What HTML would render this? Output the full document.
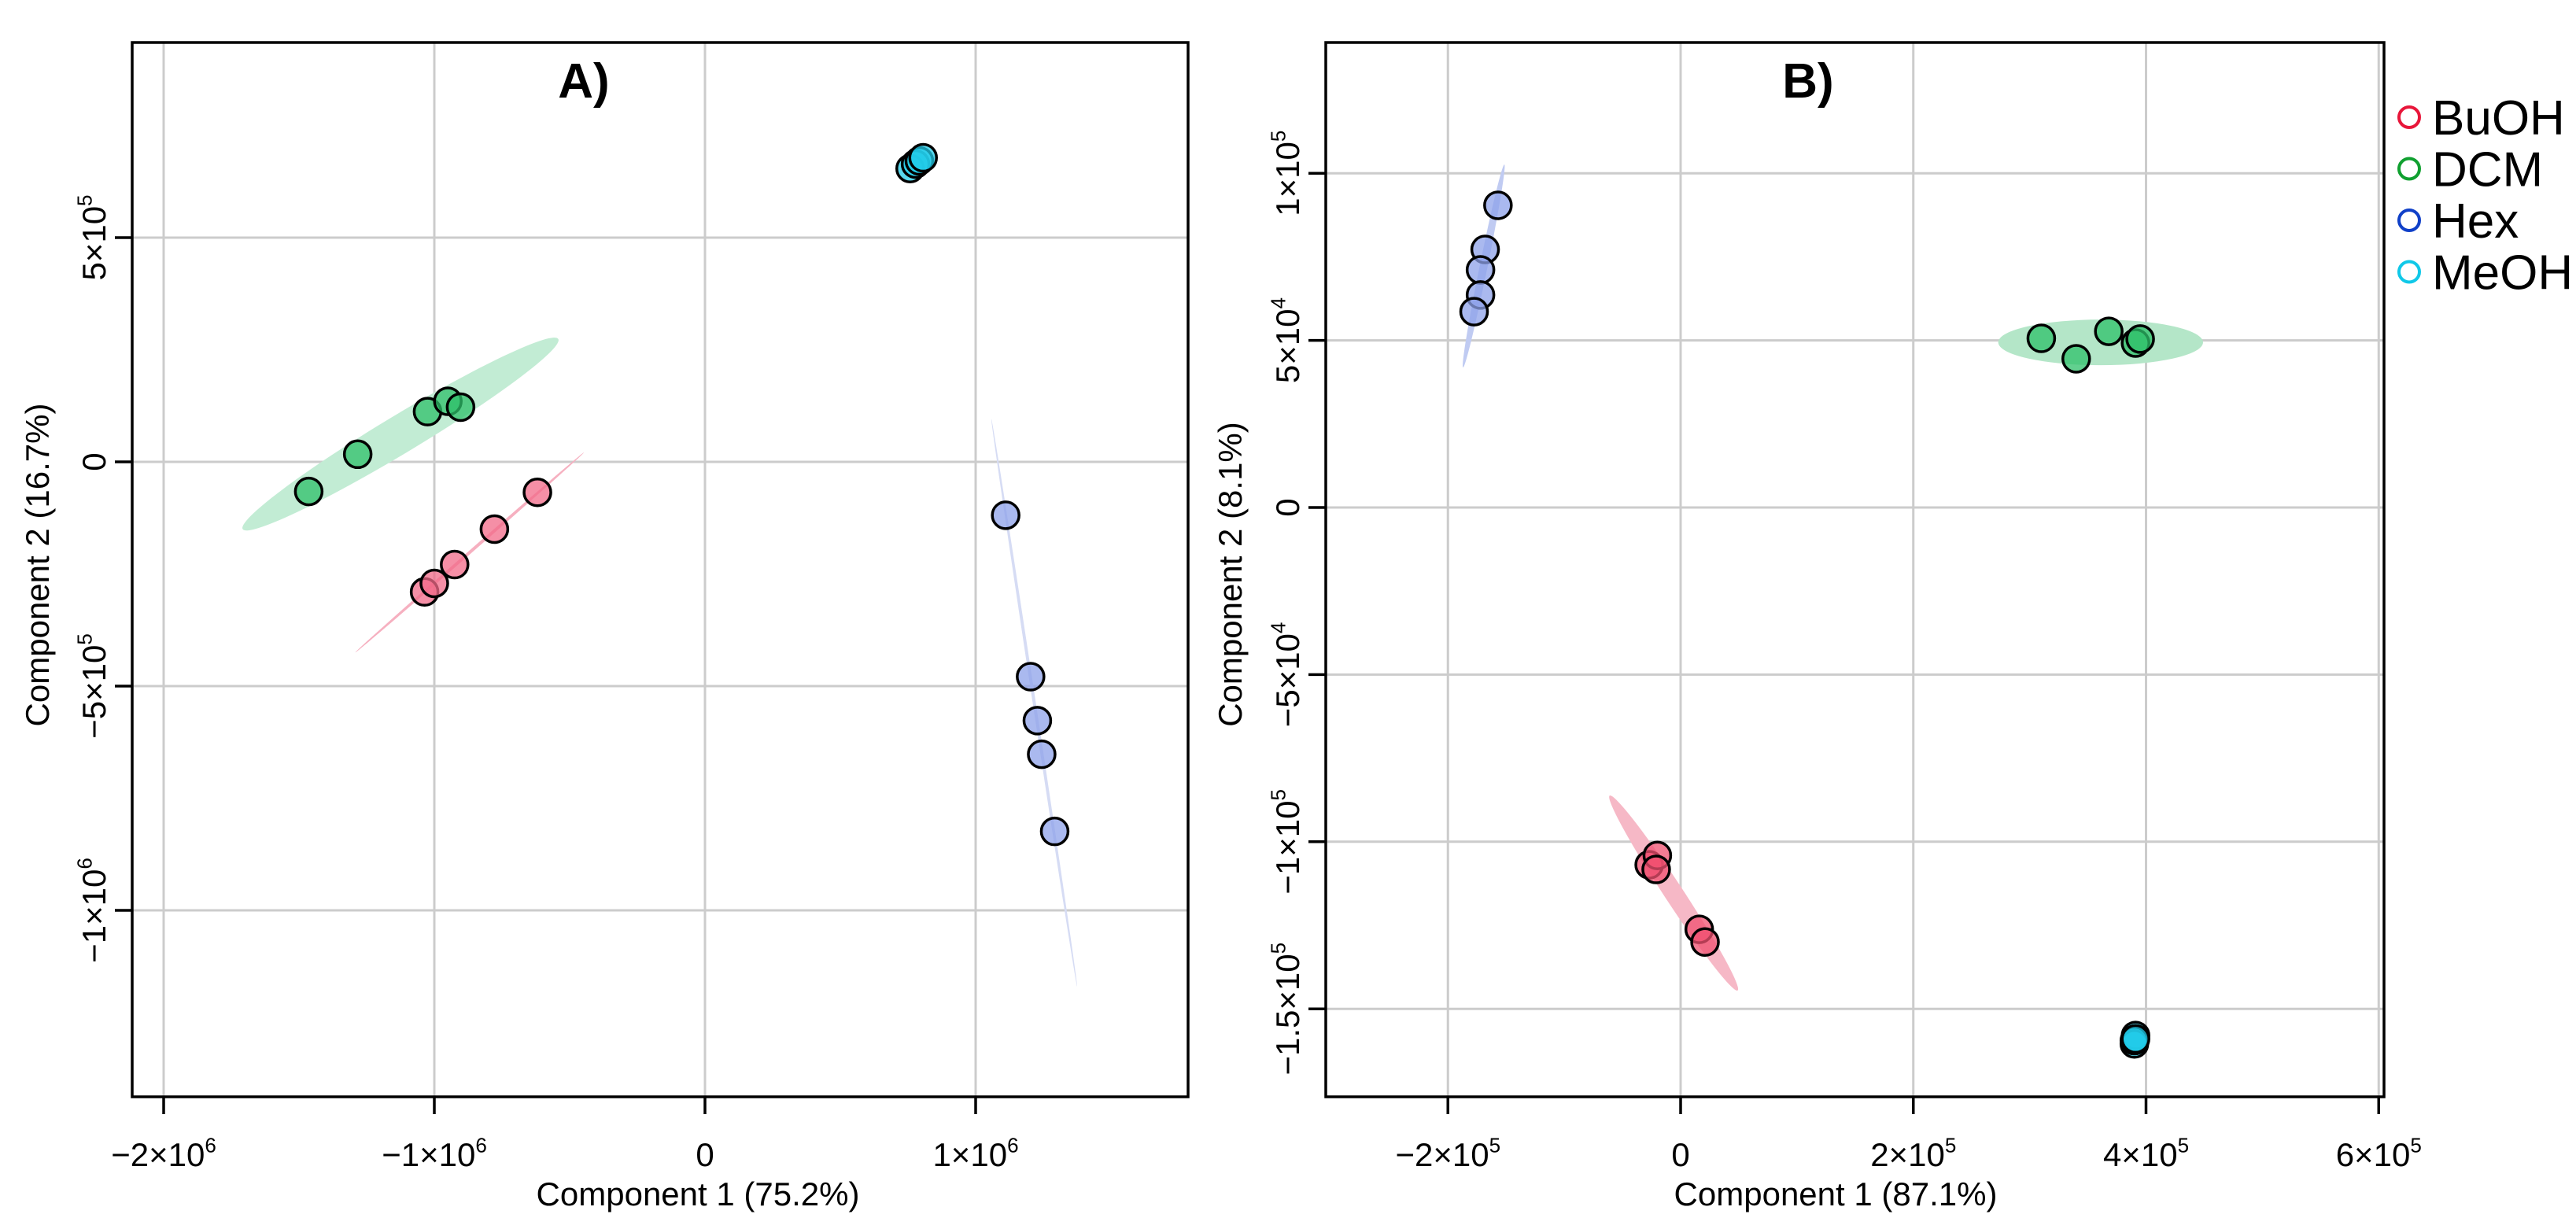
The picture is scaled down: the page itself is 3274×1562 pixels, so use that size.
<!DOCTYPE html>
<html><head><meta charset="utf-8"><style>
html,body{margin:0;padding:0;background:#fff;}
svg{display:block;font-family:"Liberation Sans",Arial,sans-serif;}
</style></head><body>
<svg id="chart" width="3274" height="1562" viewBox="0 0 3274 1562" xmlns="http://www.w3.org/2000/svg">
<g id="panelA"></g>
<g id="panelB"></g>
<g id="legend"></g>
</svg>
<script>
// ---------- Panel A data ----------
const aXTicks = [-2e6, -1e6, 0, 1e6];
const aXTickLabels = [["−2×10","6"],["−1×10","6"],["0",""],["1×10","6"]];
const aYTicks = [5e5, 0, -5e5, -1e6];
const aYTickLabels = [["5×10","5"],["0",""],["−5×10","5"],["−1×10","6"]];
const aBuOHx = [-1.036e6, -1.0e6, -0.925e6, -0.778e6, -0.619e6];
const aBuOHy = [-2.90e5, -2.71e5, -2.29e5, -1.50e5, -0.68e5];
const aDCMx = [-1.464e6, -1.283e6, -1.025e6, -0.95e6, -0.903e6];
const aDCMy = [-0.66e5, 0.17e5, 1.12e5, 1.35e5, 1.22e5];
const aHexx = [1.111e6, 1.203e6, 1.228e6, 1.244e6, 1.292e6];
const aHexy = [-1.19e5, -4.79e5, -5.77e5, -6.52e5, -8.24e5];
const aMeOHx = [0.758e6, 0.778e6, 0.792e6, 0.806e6];
const aMeOHy = [6.54e5, 6.64e5, 6.71e5, 6.78e5];
// ellipse major-axis endpoints [x1,y1,x2,y2]
const aEllDCM = [-1.708e6, -1.50e5, -0.542e6, 2.74e5];
const aEllBuOH = [-1.292e6, -4.25e5, -0.447e6, 0.21e5];
const aEllHex = [1.058e6, 0.96e5, 1.375e6, -11.7e5];

// ---------- Panel B data ----------
const bXTicks = [-2e5, 0, 2e5, 4e5, 6e5];
const bXTickLabels = [["−2×10","5"],["0",""],["2×10","5"],["4×10","5"],["6×10","5"]];
const bYTicks = [1e5, 5e4, 0, -5e4, -1e5, -1.5e5];
const bYTickLabels = [["1×10","5"],["5×10","4"],["0",""],["−5×10","4"],["−1×10","5"],["−1.5×10","5"]];
const bBuOHx = [-0.27e5, -0.20e5, -0.21e5, 0.16e5, 0.21e5];
const bBuOHy = [-10.69e4, -10.41e4, -10.83e4, -12.62e4, -13.0e4];
const bDCMx = [3.10e5, 3.40e5, 3.68e5, 3.91e5, 3.95e5];
const bDCMy = [5.06e4, 4.45e4, 5.27e4, 4.92e4, 5.04e4];
const bHexx = [-1.57e5, -1.68e5, -1.72e5, -1.72e5, -1.775e5];
const bHexy = [9.04e4, 7.72e4, 7.11e4, 6.36e4, 5.86e4];
const bMeOHx = [3.91e5, 3.90e5, 3.90e5, 3.91e5];
const bMeOHy = [-15.8e4, -16.05e4, -15.95e4, -15.9e4];
const bEllDCM = [2.73e5, 4.94e4, 4.49e5, 4.94e4];
const bEllBuOH = [-0.61e5, -8.62e4, 0.49e5, -14.45e4];
const bEllHex = [-1.87e5, 4.19e4, -1.515e5, 10.26e4];

const legendLabels = ["BuOH","DCM","Hex","MeOH"];
const legendColors = ["#e8163a","#10a030","#1040c8","#10c8e8"];

const NS = "http://www.w3.org/2000/svg";
function mk(tag, attrs, parent){ const e=document.createElementNS(NS,tag); for(const k in attrs) e.setAttribute(k,attrs[k]); parent.appendChild(e); return e; }
function supText(parent, x, y, parts, size, anchor, rot){
  const t = mk("text",{x:x,y:y,"font-size":size,"text-anchor":anchor,fill:"#000"},parent);
  if(rot) t.setAttribute("transform",`rotate(-90 ${x} ${y})`);
  t.appendChild(document.createTextNode(parts[0]));
  if(parts[1]){ const s=mk("tspan",{"font-size":size*0.62,dy:-size*0.42},t); s.textContent=parts[1]; }
  return t;
}

function panel(g, cfg){
  const sx = v => cfg.x0 + (v - cfg.xv0) * cfg.xs;
  const sy = v => cfg.y0 - (v - cfg.yv0) * cfg.ys;
  // grid
  cfg.xTicks.forEach(v=>{ const l=mk("line",{x1:sx(v),x2:sx(v),y1:cfg.top,y2:cfg.bottom,stroke:"#cccccc","stroke-width":3},g);
      });
  cfg.yTicks.forEach(v=>{ const l=mk("line",{x1:cfg.left,x2:cfg.right,y1:sy(v),y2:sy(v),stroke:"#cccccc","stroke-width":3},g);
      });
  // ellipses
  cfg.ells.forEach(e=>{
    const [x1,y1,x2,y2]=e.p; const px1=sx(x1),py1=sy(y1),px2=sx(x2),py2=sy(y2);
    const cx=(px1+px2)/2, cy=(py1+py2)/2, rx=Math.hypot(px2-px1,py2-py1)/2;
    const ang=Math.atan2(py2-py1,px2-px1)*180/Math.PI;
    const el=mk("ellipse",{cx:cx,cy:cy,rx:rx,ry:e.ry,fill:e.fill,transform:`rotate(${ang} ${cx} ${cy})`},g);
    
    
  });
  // points
  cfg.series.forEach(s=>{
    s.x.forEach((xv,i)=>{
      const c=mk("circle",{cx:sx(xv),cy:sy(s.y[i]),r:17,fill:s.fill,"fill-opacity":0.75,stroke:"#000","stroke-width":3.5},g);
      
      
    });
  });
  // box
  const b=mk("rect",{x:cfg.left,y:cfg.top,width:cfg.right-cfg.left,height:cfg.bottom-cfg.top,fill:"none",stroke:"#000","stroke-width":3.5},g);
   
  // x ticks
  cfg.xTicks.forEach((v,i)=>{
    const l=mk("line",{x1:sx(v),x2:sx(v),y1:cfg.bottom,y2:cfg.bottom+22,stroke:"#000","stroke-width":3.5},g);
     
    const t=supText(g, sx(v), 1482, cfg.xLabels[i], 42, "middle", false);
     
  });
  cfg.yTicks.forEach((v,i)=>{
    const l=mk("line",{x1:cfg.left-22,x2:cfg.left,y1:sy(v),y2:sy(v),stroke:"#000","stroke-width":3.5},g);
     
    const t=supText(g, cfg.left-34, sy(v), cfg.yLabels[i], 42, "middle", true);
     
  });
  const xt=mk("text",{x:cfg.xTitleX,y:1532,"font-size":42,"text-anchor":"middle"},g); xt.textContent=cfg.xTitle;
   
  const yt=mk("text",{x:cfg.yTitleX,y:cfg.yTitleY,"font-size":42,"text-anchor":"middle",transform:`rotate(-90 ${cfg.yTitleX} ${cfg.yTitleY})`},g); yt.textContent=cfg.yTitle;
   
  const pt=mk("text",{x:cfg.titleX,y:124,"font-size":62,"font-weight":"bold","text-anchor":"middle"},g); pt.textContent=cfg.title;
   
}

panel(document.getElementById("panelA"),{
  left:168,right:1510,top:54,bottom:1394,
  x0:896,xv0:0,xs:344/1e6, y0:587,yv0:0,ys:285/5e5,
  xTicks:aXTicks,xLabels:aXTickLabels,yTicks:aYTicks,yLabels:aYTickLabels,
  ells:[{p:aEllDCM,ry:24,fill:"#c2ecd4",name:"dcm-ellipse"},{p:aEllBuOH,ry:2,fill:"#f6b0c0",name:"buoh-ellipse"},{p:aEllHex,ry:2,fill:"#d6dcf4",name:"hex-ellipse"}],
  series:[{name:"dcm",x:aDCMx,y:aDCMy,fill:"#2ec06a"},{name:"buoh",x:aBuOHx,y:aBuOHy,fill:"#f26a88"},
          {name:"hex",x:aHexx,y:aHexy,fill:"#8ea2ea"},{name:"meoh",x:aMeOHx,y:aMeOHy,fill:"#22cbe8"}],
  xTitle:"Component 1 (75.2%)",xTitleX:887,yTitle:"Component 2 (16.7%)",yTitleX:62,yTitleY:718,
  title:"A)",titleX:742
});
panel(document.getElementById("panelB"),{
  left:1685,right:3030,top:54,bottom:1394,
  x0:2136,xv0:0,xs:295.75/2e5, y0:645,yv0:0,ys:212.4/5e4,
  xTicks:bXTicks,xLabels:bXTickLabels,yTicks:bYTicks,yLabels:bYTickLabels,
  ells:[{p:bEllDCM,ry:29,fill:"#b4e6c8",name:"dcm-ellipse"},{p:bEllBuOH,ry:12,fill:"#f6b8c6",name:"buoh-ellipse"},{p:bEllHex,ry:5,fill:"#c0cbf2",name:"hex-ellipse"}],
  series:[{name:"hex",x:bHexx,y:bHexy,fill:"#8ea2ea"},{name:"dcm",x:bDCMx,y:bDCMy,fill:"#2ec06a"},
          {name:"buoh",x:bBuOHx,y:bBuOHy,fill:"#f05070"},{name:"meoh",x:bMeOHx,y:bMeOHy,fill:"#22cbe8"}],
  xTitle:"Component 1 (87.1%)",xTitleX:2333,yTitle:"Component 2 (8.1%)",yTitleX:1578,yTitleY:730,
  title:"B)",titleX:2298
});

const lg=document.getElementById("legend");
legendLabels.forEach((lab,i)=>{
  const y=149+i*65.5;
  const c=mk("circle",{cx:3062,cy:y,r:13,fill:"none",stroke:legendColors[i],"stroke-width":4},lg);
  
  
  const t=mk("text",{x:3091,y:y+22,"font-size":62},lg); t.textContent=lab;
  
  
});
</script>
</body></html>
